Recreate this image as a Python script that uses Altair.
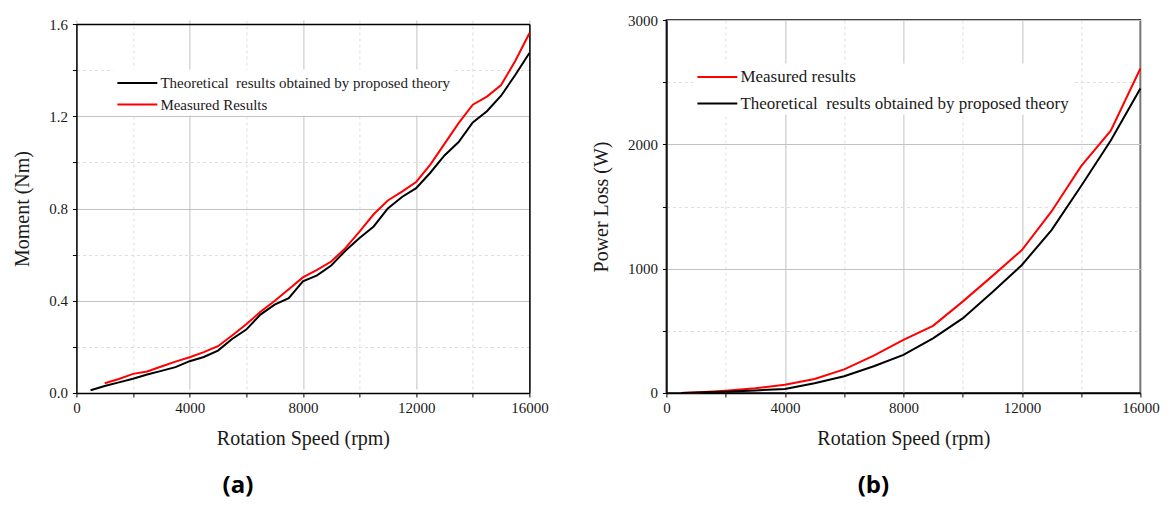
import altair as alt
import pandas as pd

# ---------------- data ----------------
speed_a_theory = [500, 1000, 1500, 2000, 2500, 3000, 3500, 4000, 4500, 5000, 5500, 6000,
                  6500, 7000, 7500, 8000, 8500, 9000, 9500, 10000, 10500, 11000, 11500,
                  12000, 12500, 13000, 13500, 14000, 14500, 15000, 15500, 16000]
moment_theory = [0.012, 0.030, 0.046, 0.062, 0.080, 0.096, 0.112, 0.138, 0.156, 0.184, 0.234, 0.275,
                 0.340, 0.383, 0.411, 0.484, 0.510, 0.553, 0.617, 0.672, 0.722, 0.800, 0.850,
                 0.888, 0.955, 1.030, 1.088, 1.173, 1.222, 1.289, 1.379, 1.474]
speed_a_meas = [1000, 1500, 2000, 2500, 3000, 3500, 4000, 4500, 5000, 5500, 6000,
                6500, 7000, 7500, 8000, 8500, 9000, 9500, 10000, 10500, 11000, 11500,
                12000, 12500, 13000, 13500, 14000, 14500, 15000, 15500, 16000]
moment_meas = [0.042, 0.061, 0.083, 0.093, 0.115, 0.136, 0.155, 0.177, 0.203, 0.249, 0.298,
               0.352, 0.399, 0.450, 0.501, 0.534, 0.570, 0.628, 0.700, 0.775, 0.835, 0.873,
               0.915, 0.990, 1.080, 1.170, 1.250, 1.285, 1.335, 1.440, 1.560]

speed_b = [500, 1000, 2000, 3000, 4000, 5000, 6000, 7000, 8000, 9000, 10000, 11000,
           12000, 13000, 14000, 15000, 16000]
loss_meas = [0, 5, 19, 38, 67, 112, 190, 300, 427, 540, 735, 940,
             1150, 1460, 1825, 2110, 2610]
loss_theory = [0, 4, 11, 21, 32, 78, 135, 215, 307, 440, 600, 810,
               1030, 1310, 1665, 2030, 2450]

x_ticks = [0, 2000, 4000, 6000, 8000, 10000, 12000, 14000, 16000]
y_ticks_a = [0.0, 0.2, 0.4, 0.6, 0.8, 1.0, 1.2, 1.4, 1.6]
y_ticks_b = [0, 500, 1000, 1500, 2000, 2500, 3000]

label_theory = "Theoretical\u00a0 results obtained by proposed theory"
label_meas_a = "Measured Results"
label_meas_b = "Measured results"

# ---------------- tables ----------------
df_a = pd.concat([
    pd.DataFrame({"speed": speed_a_theory, "value": moment_theory, "series": label_theory}),
    pd.DataFrame({"speed": speed_a_meas, "value": moment_meas, "series": label_meas_a}),
])
df_b = pd.concat([
    pd.DataFrame({"speed": speed_b, "value": loss_meas, "series": label_meas_b}),
    pd.DataFrame({"speed": speed_b, "value": loss_theory, "series": label_theory}),
])

FONT = "Liberation Serif"
TXT = "#1a1a1a"
MAJOR = "#c2c2c2"
MINOR = "#dedede"


def x_axis():
    return alt.Axis(
        values=x_ticks, format="d",
        labelExpr="datum.value % 4000 === 0 ? datum.label : ''",
        labelFont=FONT, labelFontSize=15, labelColor=TXT, labelPadding=4,
        labelFlush=False, labelOverlap=False,
        tickSize=4, tickColor="black", domainColor="black", domainWidth=1.5,
        grid=True,
        gridColor={"condition": {"test": "datum.value % 4000 !== 0", "value": MINOR}, "value": MAJOR},
        gridDash={"condition": {"test": "datum.value % 4000 !== 0", "value": [3, 3]}, "value": []},
        title="Rotation Speed (rpm)", titleFont=FONT, titleFontSize=20,
        titleFontWeight="normal", titleColor=TXT, titlePadding=13,
    )


def y_axis(values, minor_test, label_expr, title):
    return alt.Axis(
        values=values, labelExpr=label_expr,
        labelFont=FONT, labelFontSize=15, labelColor=TXT, labelPadding=5,
        labelOverlap=False,
        tickSize=4, tickColor="black", domainColor="black", domainWidth=1.5,
        grid=True,
        gridColor={"condition": {"test": minor_test, "value": MINOR}, "value": MAJOR},
        gridDash={"condition": {"test": minor_test, "value": [3, 3]}, "value": []},
        title=title, titleFont=FONT, titleFontSize=20, titleFontWeight="normal",
        titleColor=TXT, titlePadding=16,
    )


def legend(x, y, size, row_pad):
    return alt.Legend(
        orient="none", legendX=x, legendY=y, title=None,
        symbolType="M-1,0H3.2", symbolSize=361, symbolStrokeWidth=2,
        labelFont=FONT, labelFontSize=size, labelColor=TXT, labelOffset=23,
        labelLimit=600, fillColor="white", padding=3, rowPadding=row_pad,
    )


def frame_axis(orient, offset=0):
    return alt.Axis(orient=orient, labels=False, ticks=False, grid=False, title=None,
                    domain=True, domainColor="black", domainWidth=1.5, offset=offset)


# ---------------- chart (a) ----------------
# plot group is 373 px tall; the 0..1.6 range is drawn over its lower 369 px
lines_a = alt.Chart(df_a).mark_line(strokeWidth=2).encode(
    x=alt.X("speed:Q", scale=alt.Scale(domain=[0, 16000], nice=False), axis=x_axis()),
    y=alt.Y("value:Q", scale=alt.Scale(domain=[0, 1.6], nice=False, range=[373, 4]),
            axis=y_axis(y_ticks_a,
                        "round(datum.value*10) % 4 !== 0",
                        "round(datum.value*10) % 4 === 0 ? format(datum.value, '.1f') : ''",
                        "Moment (Nm)")),
    color=alt.Color("series:N",
                    scale=alt.Scale(domain=[label_theory, label_meas_a], range=["#000000", "#ff0000"]),
                    legend=legend(37, 49.5, 15, 2.5)),
    order=alt.Order("speed:Q"),
)
frame_a = alt.Chart(df_a).mark_point(opacity=0, size=1).encode(
    x=alt.X("speed:Q", axis=frame_axis("top", -4)),
    y=alt.Y("value:Q", axis=frame_axis("right")),
)
chart_a = alt.layer(lines_a, frame_a).resolve_axis(x="independent", y="independent").properties(
    width=453, height=373,
    view=alt.ViewBackground(stroke="transparent"),
    title=alt.TitleParams("(a)", orient="bottom", anchor="middle", frame="group",
                          font="Open Sans", fontSize=24, fontWeight="bold",
                          color="black", offset=25, dx=-65),
)

# ---------------- chart (b) ----------------
chart_b = alt.Chart(df_b).mark_line(strokeWidth=2).encode(
    x=alt.X("speed:Q", scale=alt.Scale(domain=[0, 16000], nice=False), axis=x_axis()),
    y=alt.Y("value:Q", scale=alt.Scale(domain=[0, 3000], nice=False),
            axis=y_axis(y_ticks_b,
                        "datum.value % 1000 !== 0",
                        "datum.value % 1000 === 0 ? format(datum.value, 'd') : ''",
                        "Power Loss (W)")),
    color=alt.Color("series:N",
                    scale=alt.Scale(domain=[label_meas_b, label_theory], range=["#ff0000", "#000000"]),
                    legend=legend(27, 43.5, 17, 7.5)),
    order=alt.Order("speed:Q"),
).properties(
    width=474, height=373,
    view=alt.ViewBackground(stroke="black", strokeWidth=1.5),
    title=alt.TitleParams("(b)", orient="bottom", anchor="middle", frame="group",
                          font="Open Sans", fontSize=24, fontWeight="bold",
                          color="black", offset=25, dx=-30),
)

chart = alt.hconcat(chart_a, chart_b, spacing=41).resolve_scale(
    color="independent", x="independent", y="independent"
).properties(
    padding={"left": 3.4, "top": 4, "right": 0, "bottom": 0},
    background="white",
)

chart.save("out.html", embed_options={"renderer": "svg", "actions": False})
